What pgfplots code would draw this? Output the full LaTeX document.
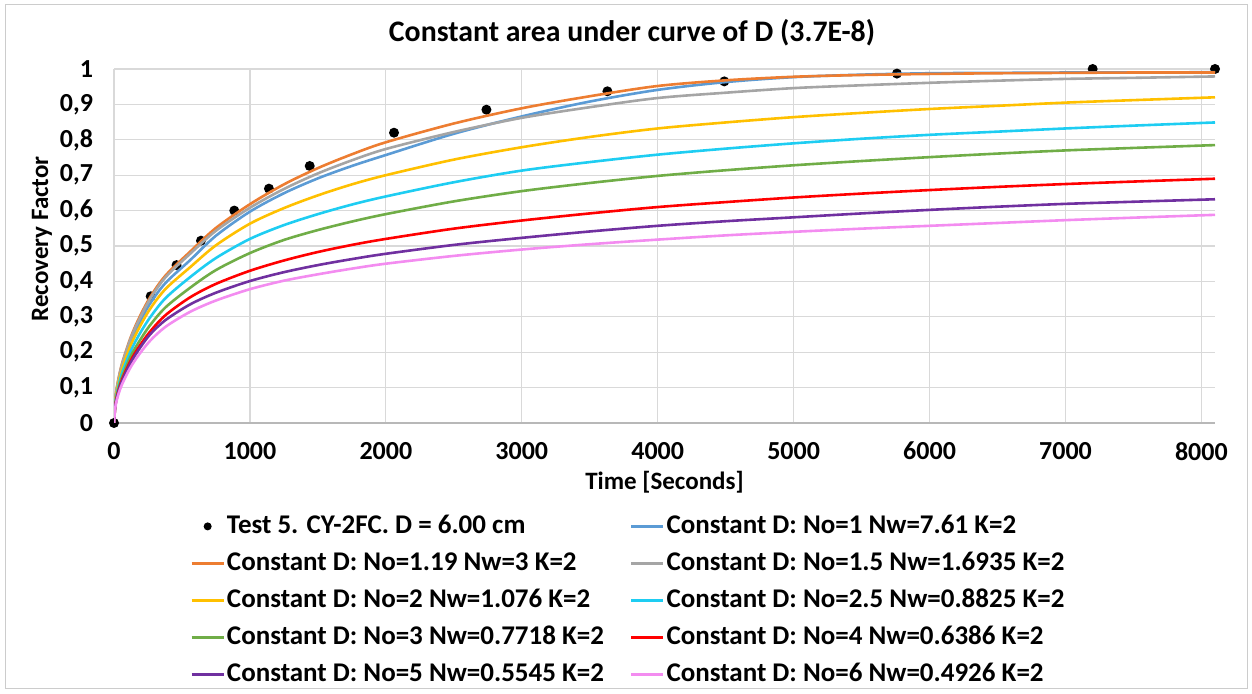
\documentclass[border=0pt]{standalone}
\usepackage{pgfplots}
\pgfplotsset{compat=1.18}
\usepackage{pgfplotstable}
\usepackage{fontspec}
\setmainfont{Carlito}

\definecolor{cBlue}{HTML}{5B9BD5}
\definecolor{cOrange}{HTML}{ED7D31}
\definecolor{cGrey}{HTML}{A5A5A5}
\definecolor{cYellow}{HTML}{FFC000}
\definecolor{cCyan}{HTML}{1ECDF2}
\definecolor{cGreen}{HTML}{70AD47}
\definecolor{cRed}{HTML}{FF0000}
\definecolor{cPurple}{HTML}{7030A0}
\definecolor{cPink}{HTML}{F38CF0}

% recovery factor of the constant-D model runs
\pgfplotstableread{
t    blue  orange grey  yellow cyan  green red   purple pink
0    0     0      0     0      0     0     0     0      0
10   0.065 0.069  0.068 0.063  0.058 0.054 0.050 0.049  0.045
30   0.113 0.119  0.118 0.108  0.100 0.093 0.087 0.084  0.078
60   0.160 0.169  0.167 0.153  0.142 0.131 0.123 0.119  0.110
120  0.227 0.239  0.236 0.217  0.201 0.186 0.174 0.168  0.156
180  0.278 0.293  0.288 0.265  0.246 0.227 0.213 0.206  0.191
265  0.337 0.355  0.350 0.322  0.298 0.276 0.258 0.250  0.232
380  0.396 0.417  0.412 0.379  0.353 0.327 0.305 0.291  0.272
560  0.460 0.484  0.478 0.440  0.412 0.382 0.355 0.335  0.314
750  0.529 0.551  0.543 0.502  0.466 0.432 0.393 0.368  0.346
1000 0.597 0.618  0.608 0.563  0.520 0.480 0.430 0.401  0.378
1250 0.649 0.674  0.661 0.607  0.559 0.517 0.459 0.426  0.402
1500 0.691 0.720  0.705 0.643  0.590 0.545 0.483 0.446  0.420
1750 0.726 0.759  0.742 0.674  0.617 0.569 0.503 0.463  0.436
2000 0.757 0.793  0.774 0.700  0.640 0.590 0.520 0.478  0.450
2500 0.817 0.846  0.822 0.744  0.680 0.626 0.549 0.503  0.472
3000 0.866 0.889  0.862 0.779  0.713 0.655 0.572 0.523  0.490
3500 0.908 0.923  0.892 0.808  0.737 0.678 0.592 0.541  0.505
4000 0.941 0.952  0.918 0.832  0.758 0.698 0.610 0.557  0.518
4500 0.963 0.968  0.933 0.849  0.775 0.714 0.624 0.570  0.530
5000 0.977 0.978  0.946 0.864  0.790 0.728 0.637 0.581  0.540
5500 0.984 0.983  0.954 0.876  0.803 0.740 0.648 0.592  0.549
6000 0.988 0.986  0.961 0.887  0.814 0.751 0.658 0.602  0.557
6500 0.989 0.988  0.967 0.896  0.823 0.761 0.667 0.611  0.565
7000 0.990 0.989  0.972 0.905  0.832 0.770 0.675 0.619  0.573
7500 0.990 0.990  0.975 0.912  0.840 0.777 0.682 0.625  0.580
8100 0.991 0.990  0.979 0.920  0.849 0.785 0.690 0.632  0.588
}\curves

% measured recovery, test 5
\pgfplotstableread{
t    rf
0    0
270  0.358
460  0.446
640  0.515
885  0.600
1140 0.662
1440 0.726
2060 0.820
2740 0.885
3630 0.937
4490 0.965
5760 0.987
7200 1.000
8100 1.000
}\testdata

\begin{document}
\begin{tikzpicture}[x=1pt,y=1pt]
\path[use as bounding box] (0,0) rectangle (626,347);
\draw[black!20, line width=0.5pt] (2.5,2.5) rectangle (623.5,344.5);
\node[font=\bfseries\fontsize{14.9}{18}\selectfont] at (316,330.5) {Constant area under curve of D (3.7E-8)};
\begin{axis}[
  at={(57pt,135.5pt)}, anchor=south west,
  scale only axis, width=550.5pt, height=177pt,
  xmin=0, xmax=8100, ymin=0, ymax=1,
  xtick={0,1000,2000,3000,4000,5000,6000,7000,8000},
  ytick={0,0.1,0.2,0.3,0.4,0.5,0.6,0.7,0.8,0.9,1},
  scaled ticks=false,
  /pgf/number format/assume math mode=true,
  xticklabel style={/pgf/number format/set thousands separator={}, anchor=north, yshift=-6pt},
  yticklabel style={/pgf/number format/.cd, fixed, precision=1, use comma, /tikz/.cd, anchor=east, xshift=-7pt},
  tick label style={font=\bfseries\fontsize{13}{15}\selectfont},
  major tick length=0pt,
  grid=major,
  major grid style={draw=black!15, line width=0.6pt},
  axis x line*=bottom, axis y line*=left,
  x axis line style={draw=black!28, line width=0.7pt, -},
  y axis line style={draw=black!15, line width=0.6pt, -},
  xlabel={Time [Seconds]}, ylabel={Recovery Factor},
  label style={font=\bfseries\fontsize{12.5}{15}\selectfont},
  x label style={at={(axis description cs:0.5,0)}, anchor=center, yshift=-29.5pt},
  y label style={at={(axis description cs:-0.0654,0.52)}, anchor=center},
  clip mode=individual,
  legend columns=2,
  legend cell align=left,
  legend image code/.code={\draw[mark repeat=2,mark phase=2,#1] plot coordinates {(0pt,0pt) (8pt,0pt) (16pt,0pt)};},
  legend style={at={(0.069,-0.2514)}, anchor=north west, draw=none, fill=none,
    font=\bfseries\fontsize{13.5}{16}\selectfont, inner sep=0pt, row sep=4.5pt,
    nodes={inner sep=1pt, text height=9.5pt, text depth=2.5pt},
    /tikz/every even column/.append style={column sep=12pt}},
  every axis plot/.append style={line width=1.3pt},
]
\addplot[only marks, mark=*, mark size=1.8pt, black, legend image post style={mark size=1.3pt}]
  table[x=t, y=rf] {\testdata};
\addlegendentry{Test 5. CY-2FC. D = 6.00 cm}
\addplot[cBlue, smooth] table[x=t, y=blue] {\curves};
\addlegendentry{Constant D: No=1 Nw=7.61 K=2}
\addplot[cOrange, smooth] table[x=t, y=orange] {\curves};
\addlegendentry{Constant D: No=1.19 Nw=3 K=2}
\addplot[cGrey, smooth] table[x=t, y=grey] {\curves};
\addlegendentry{Constant D: No=1.5 Nw=1.6935 K=2}
\addplot[cYellow, smooth] table[x=t, y=yellow] {\curves};
\addlegendentry{Constant D: No=2 Nw=1.076 K=2}
\addplot[cCyan, smooth] table[x=t, y=cyan] {\curves};
\addlegendentry{Constant D: No=2.5 Nw=0.8825 K=2}
\addplot[cGreen, smooth] table[x=t, y=green] {\curves};
\addlegendentry{Constant D: No=3 Nw=0.7718 K=2}
\addplot[cRed, smooth] table[x=t, y=red] {\curves};
\addlegendentry{Constant D: No=4 Nw=0.6386 K=2}
\addplot[cPurple, smooth] table[x=t, y=purple] {\curves};
\addlegendentry{Constant D: No=5 Nw=0.5545 K=2}
\addplot[cPink, smooth] table[x=t, y=pink] {\curves};
\addlegendentry{Constant D: No=6 Nw=0.4926 K=2}
\end{axis}
\end{tikzpicture}
\end{document}
